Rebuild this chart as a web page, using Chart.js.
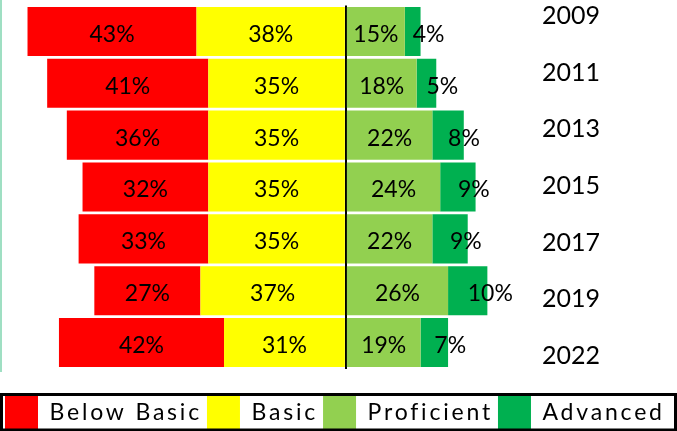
<!DOCTYPE html>
<html>
<head>
<meta charset="utf-8">
<script src="https://cdn.jsdelivr.net/npm/chart.js@4.4.1/dist/chart.umd.min.js"></script>
<style>
  html, body { margin: 0; padding: 0; background: #fff; overflow: hidden; }
  #wrap { position: relative; width: 677px; height: 431px; }
  #edge { position: absolute; left: 0; top: 0; width: 2px; height: 372px; background: #9fdfc3; }
  canvas { position: absolute; left: 0; top: 0; }
</style>
</head>
<body>
<div id="wrap">
  <div id="edge"></div>
  <canvas id="chart" width="677" height="431"></canvas>
</div>
<script>
const years = ["2009", "2011", "2013", "2015", "2017", "2019", "2022"];
const belowBasic = [43, 41, 36, 32, 33, 27, 42];
const basic = [38, 35, 35, 35, 35, 37, 31];
const proficient = [15, 18, 22, 24, 22, 26, 19];
const advanced = [4, 5, 8, 9, 9, 10, 7];
const legendOrder = ["Below Basic", "Basic", "Proficient", "Advanced"];

const legendSpacing = "2.8px";
const legendPad = 5;

// Percent labels on the bars, spaced legend text, frame round the legend
const barLabels = {
  id: "barLabels",
  afterInit(chart) {
    const legend = chart.legend;
    const fit = legend.fit.bind(legend);
    const draw = legend.draw.bind(legend);
    legend.fit = () => {
      chart.ctx.letterSpacing = legendSpacing;
      fit();
      chart.ctx.letterSpacing = "0px";
    };
    legend.draw = area => {
      chart.ctx.letterSpacing = legendSpacing;
      draw(area);
      chart.ctx.letterSpacing = "0px";
    };
  },
  afterDatasetsDraw(chart) {
    const ctx = chart.ctx;
    ctx.save();
    ctx.font = "23px Lato";
    ctx.fillStyle = "#000";
    ctx.textBaseline = "middle";
    chart.data.datasets.forEach((ds, i) => {
      chart.getDatasetMeta(i).data.forEach((bar, j) => {
        const { x, base, y } = bar.getProps(["x", "base", "y"], true);
        const mid = (x + base) / 2;
        ctx.textAlign = ds.label === "Advanced" ? "left" : "center";
        ctx.fillText(Math.abs(ds.data[j]) + "%", mid, y + 3);
      });
    });
    ctx.restore();
  },
  afterDraw(chart) {
    const ctx = chart.ctx;
    const legend = chart.legend;
    const hb = legend.legendHitBoxes[0];
    ctx.save();
    ctx.strokeStyle = "#000";
    ctx.lineWidth = 3;
    ctx.strokeRect(legend.left + 1.5, hb.top - 1.5, legend.width - 3, hb.height + 2.5);
    ctx.restore();
  },
};

const ctx = document.getElementById("chart").getContext("2d");

new Chart(ctx, {
  type: "bar",
  data: {
    labels: years,
    datasets: [
      { label: "Basic", data: basic.map(v => -v), backgroundColor: "#FFFF00" },
      { label: "Below Basic", data: belowBasic.map(v => -v), backgroundColor: "#FF0000" },
      { label: "Proficient", data: proficient, backgroundColor: "#92D050" },
      { label: "Advanced", data: advanced, backgroundColor: "#00B050" },
    ].map(ds => ({ ...ds, borderWidth: 0, barPercentage: 0.946, categoryPercentage: 1 })),
  },
  options: {
    indexAxis: "y",
    responsive: false,
    animation: false,
    layout: { padding: { top: 5.5, bottom: -8, left: 0, right: 0 } },
    plugins: {
      tooltip: { enabled: false },
      legend: {
        position: "bottom",
        align: "start",
        labels: {
          boxWidth: 33,
          boxHeight: 33,
          padding: legendPad,
          color: "#000",
          font: { family: "Lato", size: 23 },
          sort: (a, b) => legendOrder.indexOf(a.text) - legendOrder.indexOf(b.text),
        },
      },
    },
    scales: {
      x: {
        stacked: true,
        min: -88,
        max: 49.9,
        z: 1,
        ticks: { display: false },
        border: { display: false },
        grid: { color: "#000", lineWidth: 2, drawTicks: false },
        afterBuildTicks: s => { s.ticks = [{ value: 0 }]; },
        afterFit: s => { s.height = 27.5 - legendPad; },
      },
      y: { stacked: true, display: false },
      y2: {
        type: "linear",
        position: "right",
        reverse: true,
        offset: false,
        min: -0.1835,
        max: 6.2185,
        grid: { display: false, drawTicks: false, offset: false },
        border: { display: false },
        ticks: {
          padding: 0,
          color: "#000",
          font: { family: "Lato", size: 25 },
          callback: v => years[v],
        },
        afterBuildTicks: s => { s.ticks = years.map((y, i) => ({ value: i })); },
        afterFit: s => {
          s.width = 135;
          s.paddingTop = 0;
          s.paddingBottom = 0;
        },
      },
    },
  },
  plugins: [barLabels],
});
</script>
</body>
</html>
